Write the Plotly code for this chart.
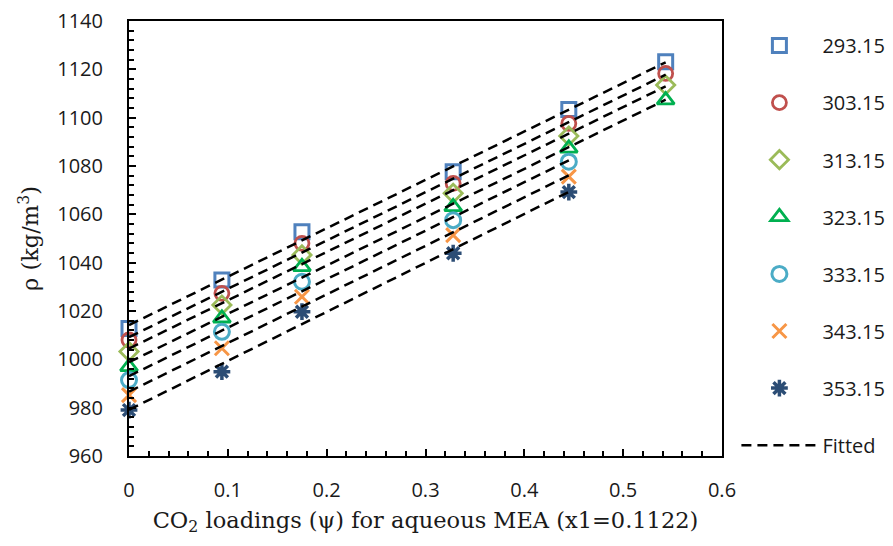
import numpy as np
import plotly.graph_objects as go

# CO2 loadings (x) for each measured column
loadings = [0.0, 0.094, 0.175, 0.328, 0.445, 0.543]

temps = ["293.15", "303.15", "313.15", "323.15", "333.15", "343.15", "353.15"]

rho_293 = [1012.8, 1032.8, 1052.8, 1077.6, 1103.4, 1123.1]
rho_303 = [1008.0, 1027.3, 1048.0, 1072.8, 1097.6, 1118.3]
rho_313 = [1003.2, 1022.5, 1043.2, 1068.7, 1092.4, 1113.5]
rho_323 = [996.9, 1017.0, 1038.3, 1063.1, 1087.3, 1107.3]
rho_333 = [991.4, 1011.4, 1032.1, 1057.6, 1081.8]
rho_343 = [985.2, 1004.6, 1025.9, 1051.4, 1075.6]
rho_353 = [979.0, 994.9, 1019.7, 1043.9, 1069.2]

series = [rho_293, rho_303, rho_313, rho_323, rho_333, rho_343, rho_353]

colors = ["#4F81BD", "#C0504D", "#9BBB59", "#00B050", "#4BACC6", "#F79646", "#2C4D75"]
symbols = ["square-open", "circle-open", "diamond-open", "triangle-up-open",
           "circle-open", "x-thin-open", "asterisk-open"]
sizes = [14, 14, 14, 15, 15, 14, 14]
widths = [3, 2.8, 2.8, 2.8, 3, 3, 3.5]

fig = go.Figure()

for i, (t, ys) in enumerate(zip(temps, series)):
    xs = loadings[:len(ys)]
    fig.add_trace(go.Scatter(
        x=xs, y=ys, mode="markers", name=t, legendgroup=t,
        cliponaxis=False,
        marker=dict(symbol=symbols[i], size=sizes[i], color=colors[i],
                    line=dict(color=colors[i], width=widths[i])),
    ))

# Fitted straight lines (least squares on each series)
fx, fy = [], []
for ys in series:
    xs = np.array(loadings[:len(ys)])
    a, b = np.polyfit(xs, np.array(ys), 1)
    fx += [0.0, xs[-1], None]
    fy += [b, a * xs[-1] + b, None]

fig.add_trace(go.Scatter(
    x=fx, y=fy, mode="lines", name="Fitted", legendgroup="fit",
    line=dict(color="black", width=2.5, dash="10px,6px"),
))

tick_font = dict(family="Open Sans", size=20, color="#1a1a1a")
title_font = dict(family="DejaVu Serif", size=22.5, color="#1a1a1a")

fig.update_layout(
    width=893, height=546,
    margin=dict(l=129, r=171, t=21, b=90, autoexpand=False),
    paper_bgcolor="white", plot_bgcolor="white",
    showlegend=True,
    legend=dict(x=1.0243, y=0.9885, xanchor="left", yanchor="top",
                font=dict(family="Open Sans", size=20, color="#1a1a1a"),
                itemwidth=76,
                tracegroupgap=28.1, maxheight=540, bgcolor="rgba(0,0,0,0)"),
    xaxis=dict(
        range=[0, 0.6], dtick=0.1, tick0=0,
        showgrid=False, zeroline=False,
        showline=True, linecolor="black", linewidth=2, mirror=True,
        ticks="inside", ticklen=7, tickwidth=2, tickcolor="black",
        minor=dict(dtick=0.02, ticks="inside", ticklen=5, tickwidth=1.5, tickcolor="black"),
        tickfont=tick_font, ticklabelstandoff=15,
        title=dict(text="CO<sub>2</sub> loadings (ψ) for aqueous MEA (x1=0.1122)",
                   font=title_font, standoff=10),
    ),
    yaxis=dict(
        range=[960, 1140], dtick=20, tick0=960,
        showgrid=False, zeroline=False,
        showline=True, linecolor="black", linewidth=2, mirror=True,
        ticks="inside", ticklen=7, tickwidth=2, tickcolor="black",
        minor=dict(dtick=4, ticks="inside", ticklen=5, tickwidth=1.5, tickcolor="black"),
        tickfont=tick_font, ticklabelstandoff=20,
        title=dict(text="ρ (kg/m<sup>3</sup>)", font=title_font, standoff=12),
    ),
)

fig.write_html("out.html")
